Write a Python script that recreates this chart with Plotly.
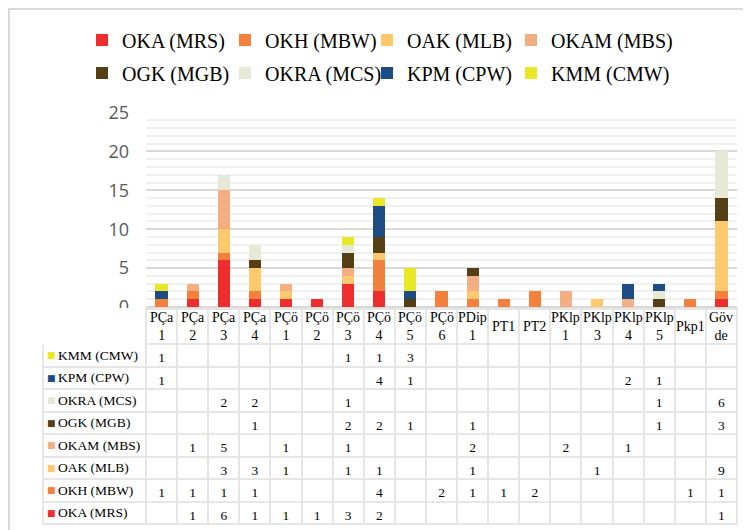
import plotly.graph_objects as go

# page is 751x530; the html body adds an 8px margin, so the figure is offset by 8px
PAGE_W, PAGE_H, OFF = 751, 530, 8
W, H = PAGE_W - OFF, PAGE_H - OFF


def px(x):
    return (x - OFF) / W


def py(y):
    return 1 - (y - OFF) / H


categories = ["PÇa 1", "PÇa 2", "PÇa 3", "PÇa 4", "PÇö 1", "PÇö 2", "PÇö 3", "PÇö 4",
              "PÇö 5", "PÇö 6", "PDip 1", "PT1", "PT2", "PKlp 1", "PKlp 3", "PKlp 4",
              "PKlp 5", "Pkp1", "Gövde"]
header_labels = ["PÇa<br>1", "PÇa<br>2", "PÇa<br>3", "PÇa<br>4", "PÇö<br>1", "PÇö<br>2",
                 "PÇö<br>3", "PÇö<br>4", "PÇö<br>5", "PÇö<br>6", "PDip<br>1", "PT1", "PT2",
                 "PKlp<br>1", "PKlp<br>3", "PKlp<br>4", "PKlp<br>5", "Pkp1", "Göv<br>de"]

OKA_MRS  = [0, 1, 6, 1, 1, 1, 3, 2, 0, 0, 0, 0, 0, 0, 0, 0, 0, 0, 1]
OKH_MBW  = [1, 1, 1, 1, 0, 0, 0, 4, 0, 2, 1, 1, 2, 0, 0, 0, 0, 1, 1]
OAK_MLB  = [0, 0, 3, 3, 1, 0, 1, 1, 0, 0, 1, 0, 0, 0, 1, 0, 0, 0, 9]
OKAM_MBS = [0, 1, 5, 0, 1, 0, 1, 0, 0, 0, 2, 0, 0, 2, 0, 1, 0, 0, 0]
OGK_MGB  = [0, 0, 0, 1, 0, 0, 2, 2, 1, 0, 1, 0, 0, 0, 0, 0, 1, 0, 3]
OKRA_MCS = [0, 0, 2, 2, 0, 0, 1, 0, 0, 0, 0, 0, 0, 0, 0, 0, 1, 0, 6]
KPM_CPW  = [1, 0, 0, 0, 0, 0, 0, 4, 1, 0, 0, 0, 0, 0, 0, 2, 1, 0, 0]
KMM_CMW  = [1, 0, 0, 0, 0, 0, 1, 1, 3, 0, 0, 0, 0, 0, 0, 0, 0, 0, 0]

series = [
    ("OKA (MRS)", OKA_MRS, "#EE2E2E"),
    ("OKH (MBW)", OKH_MBW, "#F3813B"),
    ("OAK (MLB)", OAK_MLB, "#FEC86C"),
    ("OKAM (MBS)", OKAM_MBS, "#F4AE84"),
    ("OGK (MGB)", OGK_MGB, "#553F14"),
    ("OKRA (MCS)", OKRA_MCS, "#E5E9D6"),
    ("KPM (CPW)", KPM_CPW, "#1C4C83"),
    ("KMM (CMW)", KMM_CMW, "#E9E824"),
]

SERIF = "Liberation Serif"

# geometry in page pixels
x_left_tbl = 43
x_plot0 = 146
x_plot1 = 737
y_plot_top = 112.5
y_plot_bot = 307
y_tbl_top = 309
hdr_h = 35
row_h = 22.5
ncat = len(categories)
colw = (x_plot1 - x_plot0) / ncat
legend_text_x = [119, 262, 404, 548]
legend_row_y = [40, 73]

fig = go.Figure()
legends = {}
for k, (name, vals, col) in enumerate(series):
    lname = "legend" if k == 0 else f"legend{k + 1}"
    fig.add_trace(go.Bar(x=categories, y=vals, name=name, marker_color=col,
                         marker_line_width=0, xaxis="x", yaxis="y", legend=lname))
    legends[lname] = dict(x=px(legend_text_x[k % 4] - 37), y=py(legend_row_y[k // 4]),
                          xanchor="left", yanchor="middle", orientation="h",
                          font=dict(family=SERIF, size=20, color="black"),
                          itemwidth=30, bgcolor="rgba(0,0,0,0)")

# table (rows from top: reverse of stacking order)
row_series = list(reversed(series))
value_cols = []
for i in range(ncat):
    value_cols.append([("" if v[i] == 0 else str(v[i])) for n, v, c in row_series])

line_col = "#E6E6E6"
fig.add_trace(go.Table(
    domain=dict(x=[px(x_left_tbl), px(x_plot1)], y=[0, py(y_tbl_top)]),
    columnwidth=[x_plot0 - x_left_tbl] + [colw] * ncat,
    header=dict(values=[""] * (ncat + 1),
                height=hdr_h,
                fill_color="white",
                line=dict(color=["white"] + [line_col] * ncat, width=2),
                font=dict(family=SERIF, size=13, color="black")),
    cells=dict(values=[[""] * len(row_series)] + value_cols,
               height=row_h,
               align="center",
               fill_color="white",
               line=dict(color=line_col, width=2),
               font=dict(family=SERIF, size=13.5, color="black")),
))

annotations = []
# header labels, placed at category positions of the x axis
for cat, lab in zip(categories, header_labels):
    annotations.append(dict(x=cat, xref="x", y=py(y_tbl_top + hdr_h / 2), yref="paper",
                            text=lab, showarrow=False, xanchor="center", yanchor="middle",
                            align="center",
                            font=dict(family=SERIF, size=14, color="black")))
# row labels with colour keys
for r, (n, v, c) in enumerate(row_series):
    yc = y_tbl_top + hdr_h + row_h * (r + 0.5)
    annotations.append(dict(x=px(51), xref="paper", y=py(yc), yref="paper",
                            text="■", showarrow=False, xanchor="center", yanchor="middle",
                            font=dict(family="DejaVu Sans", size=9, color=c)))
    annotations.append(dict(x=px(56), xref="paper", y=py(yc), yref="paper",
                            text=n, showarrow=False, xanchor="left", yanchor="middle",
                            font=dict(family=SERIF, size=13.5, color="black")))

fig.update_layout(
    width=W, height=H,
    font=dict(family=SERIF),
    margin=dict(l=0, r=0, t=0, b=0, autoexpand=False),
    paper_bgcolor="white", plot_bgcolor="white",
    barmode="stack", bargap=0.61,
    showlegend=True,
    xaxis=dict(domain=[px(x_plot0), px(x_plot1)], showticklabels=False, showgrid=False,
               showline=False, zeroline=False, ticks=""),
    yaxis=dict(domain=[py(y_plot_bot), py(y_plot_top)], range=[0, 25], dtick=5,
               showgrid=True, gridcolor="#D9D9D9", gridwidth=1.5,
               minor=dict(dtick=1, showgrid=True, gridcolor="#F0F0F0", gridwidth=1.5),
               zeroline=True, zerolinecolor="#D9D9D9", showline=False,
               tickfont=dict(family="Open Sans", size=18, color="#595959"),
               ticklabelstandoff=16),
    annotations=annotations,
    shapes=[dict(type="rect", xref="paper", yref="paper",
                 x0=1 / W, x1=1.05, y0=-0.05, y1=1 - 1 / H,
                 line=dict(color="#D9D9D9", width=2), fillcolor="rgba(0,0,0,0)")],
    **legends,
)

fig.write_html("out.html")
